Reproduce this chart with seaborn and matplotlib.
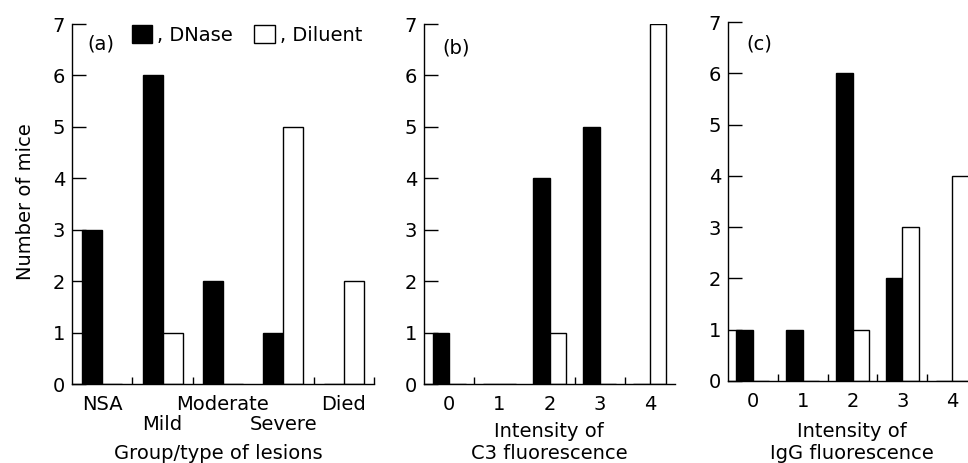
import numpy as np
import pandas as pd
import matplotlib
matplotlib.use('Agg')
import matplotlib.pyplot as plt
import seaborn as sns
from matplotlib.patches import Patch

sns.set_theme(style='ticks')
plt.rcParams['font.family'] = ['DejaVu Sans']
plt.rcParams.update({'text.color': 'black', 'axes.labelcolor': 'black',
                     'xtick.color': 'black', 'ytick.color': 'black',
                     'axes.edgecolor': 'black'})

# ---- data ----
lesion_groups = ['NSA', 'Mild', 'Moderate', 'Severe', 'Died']
lesion_dnase = [3, 6, 2, 1, 0]
lesion_diluent = [0, 1, 0, 5, 2]

intensity_levels = ['0', '1', '2', '3', '4']
c3_dnase = [1, 0, 4, 5, 0]
c3_diluent = [0, 0, 1, 0, 7]
igg_dnase = [1, 1, 6, 2, 0]
igg_diluent = [0, 0, 1, 3, 4]

treatments = ['DNase', 'Diluent']
palette = {'DNase': 'black', 'Diluent': 'white'}
y_ticks = [0, 1, 2, 3, 4, 5, 6, 7]

FS = 14
W, H = 968, 463

fig = plt.figure(figsize=(W / 100, H / 100), dpi=100)


def px_axes(x0, x1, ytop, ybot):
    return fig.add_axes([x0 / W, 1 - ybot / H, (x1 - x0) / W, (ybot - ytop) / H])


def long_df(cats, dnase, diluent):
    return pd.DataFrame({
        'cat': list(cats) * 2,
        'n': list(dnase) + list(diluent),
        'treatment': ['DNase'] * len(cats) + ['Diluent'] * len(cats),
    })


def draw(ax, cats, dnase, diluent, minor_ticks):
    df = long_df(cats, dnase, diluent)
    sns.barplot(data=df, x='cat', y='n', hue='treatment', order=cats,
                hue_order=treatments, palette=palette, edgecolor='black',
                linewidth=1.0, width=0.66, gap=0, saturation=1,
                legend=False, ax=ax, errorbar=None)
    ax.set_xlim(-0.5, 4.5)
    ax.set_ylim(0, 7)
    ax.set_yticks(y_ticks)
    ax.set_yticklabels([str(v) for v in y_ticks], fontsize=FS)
    ax.set_xticks(range(len(cats)))
    ax.set_xticks(minor_ticks, minor=True)
    ax.tick_params(axis='x', which='major', length=0, pad=8, labelsize=FS)
    ax.tick_params(axis='x', which='minor', direction='in', length=5, width=1)
    ax.tick_params(axis='y', which='major', direction='in', length=10, width=1, pad=5)
    ax.set_xlabel('')
    ax.set_ylabel('')
    for s in ['top', 'right']:
        ax.spines[s].set_visible(False)
    for s in ['left', 'bottom']:
        ax.spines[s].set_linewidth(1.0)
    ax.set_facecolor('white')


ax_a = px_axes(72, 374, 24, 384)
draw(ax_a, lesion_groups, lesion_dnase, lesion_diluent, [0.5, 1.5, 3.5, 4.5])
# upper row of category labels as tick labels, lower row placed beneath
upper = [g if i % 2 == 0 else '' for i, g in enumerate(lesion_groups)]
ax_a.set_xticklabels(upper)
for i, g in enumerate(lesion_groups):
    if i % 2 == 1:
        ax_a.annotate(g, xy=(i, 0), xycoords=('data', 'axes fraction'),
                      xytext=(0, -(430 - 384) * 0.72), textcoords='offset points',
                      ha='center', va='baseline', fontsize=FS)

ax_b = px_axes(424, 675, 24, 384)
draw(ax_b, intensity_levels, c3_dnase, c3_diluent, [0.5, 2.5, 3.5])

ax_c = px_axes(728, 977, 22, 381)
draw(ax_c, intensity_levels, igg_dnase, igg_diluent, [0.5, 1.5, 2.5, 3.5])


def ftext(x, y, s, **kw):
    fig.text(x / W, 1 - y / H, s, fontsize=FS, **kw)


ftext(31, 202, 'Number of mice', rotation=90, rotation_mode='anchor',
      ha='center', va='baseline')
ftext(218, 459, 'Group/type of lesions', ha='center', va='baseline')
ftext(549, 437, 'Intensity of', ha='center', va='baseline')
ftext(549, 459, 'C3 fluorescence', ha='center', va='baseline')
ftext(852, 437, 'Intensity of', ha='center', va='baseline')
ftext(852, 459, 'IgG fluorescence', ha='center', va='baseline')

ftext(87, 50, '(a)', ha='left', va='baseline')
ftext(442, 53, '(b)', ha='left', va='baseline')
ftext(746, 49, '(c)', ha='left', va='baseline')

handles = [Patch(facecolor='black', edgecolor='black', linewidth=1),
           Patch(facecolor='white', edgecolor='black', linewidth=1)]
fig.legend(handles, [', DNase', ', Diluent'], loc='upper left',
           bbox_to_anchor=(132 / W, 1 - 25 / H), bbox_transform=fig.transFigure,
           ncol=2, frameon=False, fontsize=FS, handlelength=1.05,
           handleheight=1.05, handletextpad=0.25, columnspacing=1.1,
           borderpad=0, borderaxespad=0)

fig.savefig('out.png', dpi=100, facecolor='white')
